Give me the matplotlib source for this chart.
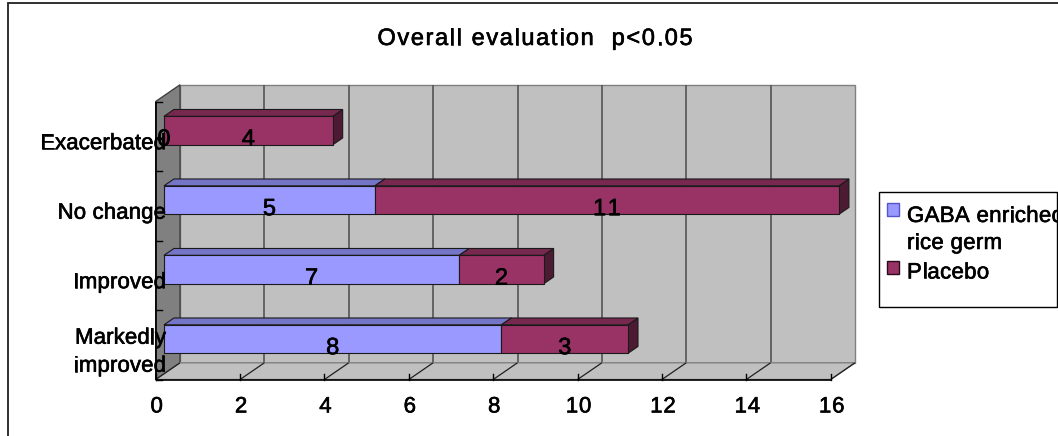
import numpy as np
import matplotlib
matplotlib.use("Agg")
import matplotlib.pyplot as plt
import matplotlib.patheffects as pe
from matplotlib.patches import Polygon, Rectangle
from matplotlib.transforms import IdentityTransform, Bbox
from matplotlib.font_manager import FontProperties, findfont, get_font

# ---- data -------------------------------------------------------------
categories = ["Markedly\nimproved", "Improved", "No change", "Exacerbated"]
gaba = [8, 7, 5, 0]
placebo = [3, 2, 11, 4]
series_names = ["GABA enriched\nrice germ", "Placebo"]
x_ticks = [0, 2, 4, 6, 8, 10, 12, 14, 16]
title = "Overall evaluation  p<0.05"

# ---- styling ----------------------------------------------------------
FONT = "Liberation Sans"
C_GABA = ("#9999FF", "#7575C8", "#4D4D80")      # front, top, side
C_PLAC = ("#993366", "#77284F", "#4D1A33")
WALL = "#C0C0C0"
SIDE_WALL = "#808080"
TEXT_FX = [pe.withStroke(linewidth=0.45, foreground="black")]

W, H, DPI = 1058, 436, 100
fig = plt.figure(figsize=(W / DPI, H / DPI), dpi=DPI)
fig.patch.set_facecolor("white")

# front plane of the 3-D box (pixel coordinates, y measured from the top)
PX0, PX1 = 155.7, 830.7
PY_TOP, PY_BOT = 101.5, 379.5
ax = fig.add_axes([PX0 / W, (H - PY_BOT) / H, (PX1 - PX0) / W, (PY_BOT - PY_TOP) / H])
ax.set_xlim(x_ticks[0], x_ticks[-1])
ax.set_ylim(-0.5, len(categories) - 0.5)
ax.axis("off")

DX, DY = 24.3, 16.7          # box depth in display pixels
F_FRONT, F_BACK = 0.34, 0.75  # bar depth range (fraction of box depth)
BAR_HALF = 0.205


def proj(pts):
    """(value, category, depth) -> display pixels."""
    pts = np.asarray(pts, float)
    xy = ax.transData.transform(pts[:, :2])
    xy[:, 0] += pts[:, 2] * DX
    xy[:, 1] += pts[:, 2] * DY
    return xy


def face(pts, fc, ec, lw=0.8, z=1):
    ax.add_patch(Polygon(proj(pts), closed=True, transform=IdentityTransform(),
                         facecolor=fc, edgecolor=ec, linewidth=lw, zorder=z,
                         clip_on=False))


def seg(p0, p1, color, lw=1.0, z=2):
    xy = proj([p0, p1])
    ax.plot(xy[:, 0], xy[:, 1], transform=IdentityTransform(), color=color,
            lw=lw, zorder=z, clip_on=False, solid_capstyle="butt")


def tracked(x, y, s, size, track, ha="center", clip=None):
    """Text with extra letter spacing; (x, y) = display x and cap-centre y."""
    prop = FontProperties(family=FONT, size=size)
    font = get_font(findfont(prop))
    font.set_size(size, DPI)
    adv = [font.load_char(ord(ch)).linearHoriAdvance / 65536 for ch in s]
    total = sum(adv) + track * (len(s) - 1)
    x0 = {"center": x - total / 2, "right": x - total, "left": x}[ha]
    base = y - 0.358 * size * DPI / 72
    cx = x0
    for ch, a in zip(s, adv):
        if ch != " ":
            t = fig.text(cx, base, ch, transform=IdentityTransform(),
                         fontproperties=prop, color="black",
                         ha="left", va="baseline", zorder=10,
                         path_effects=TEXT_FX)
            if clip is not None:
                t.set_clip_box(clip)
                t.set_clip_on(True)
        cx += a + track


def up(py):
    return H - py


# ---- frame around the chart area -------------------------------------------
fig.add_artist(Rectangle((8, -10), W + 20, up(3) + 10, transform=IdentityTransform(),
                         fill=False, edgecolor="#202020", linewidth=1.3))

# ---- walls -------------------------------------------------------------
y0, y1 = -0.5, len(categories) - 0.5
xa, xb = x_ticks[0], x_ticks[-1]
face([(xa, y0, 1), (xb, y0, 1), (xb, y1, 1), (xa, y1, 1)], WALL, "#808080", lw=1.0, z=0)
for v in x_ticks[1:-1]:
    seg((v, y0, 1), (v, y1, 1), "#555555", lw=1.2, z=0.5)
face([(xa, y0, 0), (xa, y1, 0), (xa, y1, 1), (xa, y0, 1)], SIDE_WALL, "#404040", lw=1.0, z=0.6)
face([(xa, y0, 0), (xb, y0, 0), (xb, y0, 1), (xa, y0, 1)], WALL, "#808080", lw=1.0, z=0.6)
for v in x_ticks:
    seg((v, y0, 0), (v, y0, 1), "#202020", lw=0.9, z=0.7)

# axis lines and tick marks
seg((xa, y0, 0), (xb, y0, 0), "black", lw=1.2, z=0.8)
seg((xa, y0, 0), (xa, y1, 0), "black", lw=1.2, z=0.8)
for v in x_ticks:
    p = ax.transData.transform((v, y0))
    ax.plot([p[0], p[0]], [p[1], p[1] + 6], transform=IdentityTransform(),
            color="black", lw=1.0, zorder=0.8, clip_on=False)
for b in np.arange(y0, y1 + 0.01, 1.0):
    p = ax.transData.transform((xa, b))
    ax.plot([p[0], p[0] + 6], [p[1], p[1]], transform=IdentityTransform(),
            color="black", lw=1.0, zorder=0.8, clip_on=False)

# ---- bars --------------------------------------------------------------
z = 2
for i in reversed(range(len(categories))):
    left = 0
    for vals, cols in ((gaba, C_GABA), (placebo, C_PLAC)):
        v = vals[i]
        x0, x1 = left, left + v
        lo, hi = i - BAR_HALF, i + BAR_HALF
        if v > 0:
            face([(x1, lo, F_FRONT), (x1, hi, F_FRONT), (x1, hi, F_BACK), (x1, lo, F_BACK)],
                 cols[2], "#1a1a1a", z=z)
            face([(x0, hi, F_FRONT), (x1, hi, F_FRONT), (x1, hi, F_BACK), (x0, hi, F_BACK)],
                 cols[1], "#1a1a1a", z=z)
            face([(x0, lo, F_FRONT), (x1, lo, F_FRONT), (x1, hi, F_FRONT), (x0, hi, F_FRONT)],
                 cols[0], "#1a1a1a", z=z)
            z += 0.01
        c = ax.transData.transform(((x0 + x1) / 2, i))
        tracked(c[0] + F_FRONT * DX, c[1] - 1, str(v), 17, 1.5)
        left = x1

# ---- axis labels ----------------------------------------------------------
for i, name in enumerate(categories):
    c = ax.transData.transform((xa, i))
    lines = name.split("\n")
    n = len(lines)
    for k, line in enumerate(lines):
        yy = c[1] - 5 - (k - (n - 1) / 2) * 28
        tracked(166, yy, line, 16, 0.1, ha="right")

for v in x_ticks:
    p = ax.transData.transform((v, y0))
    tracked(p[0] + 1, p[1] - 25, str(v), 16, 0.8)

# ---- title -------------------------------------------------------------
tracked(535, up(36.5), title, 17, 1.6)

# ---- legend ------------------------------------------------------------
LX0, LX1, LY0, LY1 = 879, 1057, 192, 307
fig.add_artist(Rectangle((LX0, up(LY1)), LX1 - LX0, LY1 - LY0, transform=IdentityTransform(),
                         facecolor="white", edgecolor="black", linewidth=1.0, zorder=5))
clip = Bbox.from_extents(LX0, up(LY1), LX1, up(LY0))
legend_rows = [(C_GABA, "#5555CC", 209.5, [214, 241]), (C_PLAC, "#2a0a1a", 267.3, [270.5])]
for (cols, ec, my, text_rows), label in zip(legend_rows, series_names):
    fig.add_artist(Rectangle((887, up(my + 6.5)), 12, 13, transform=IdentityTransform(),
                             facecolor=cols[0], edgecolor=ec, linewidth=1.0, zorder=6))
    for ty, line in zip(text_rows, label.split("\n")):
        tracked(907, up(ty), line, 16, 0.3, ha="left", clip=clip)

fig.savefig("out.png", dpi=DPI, facecolor="white")
